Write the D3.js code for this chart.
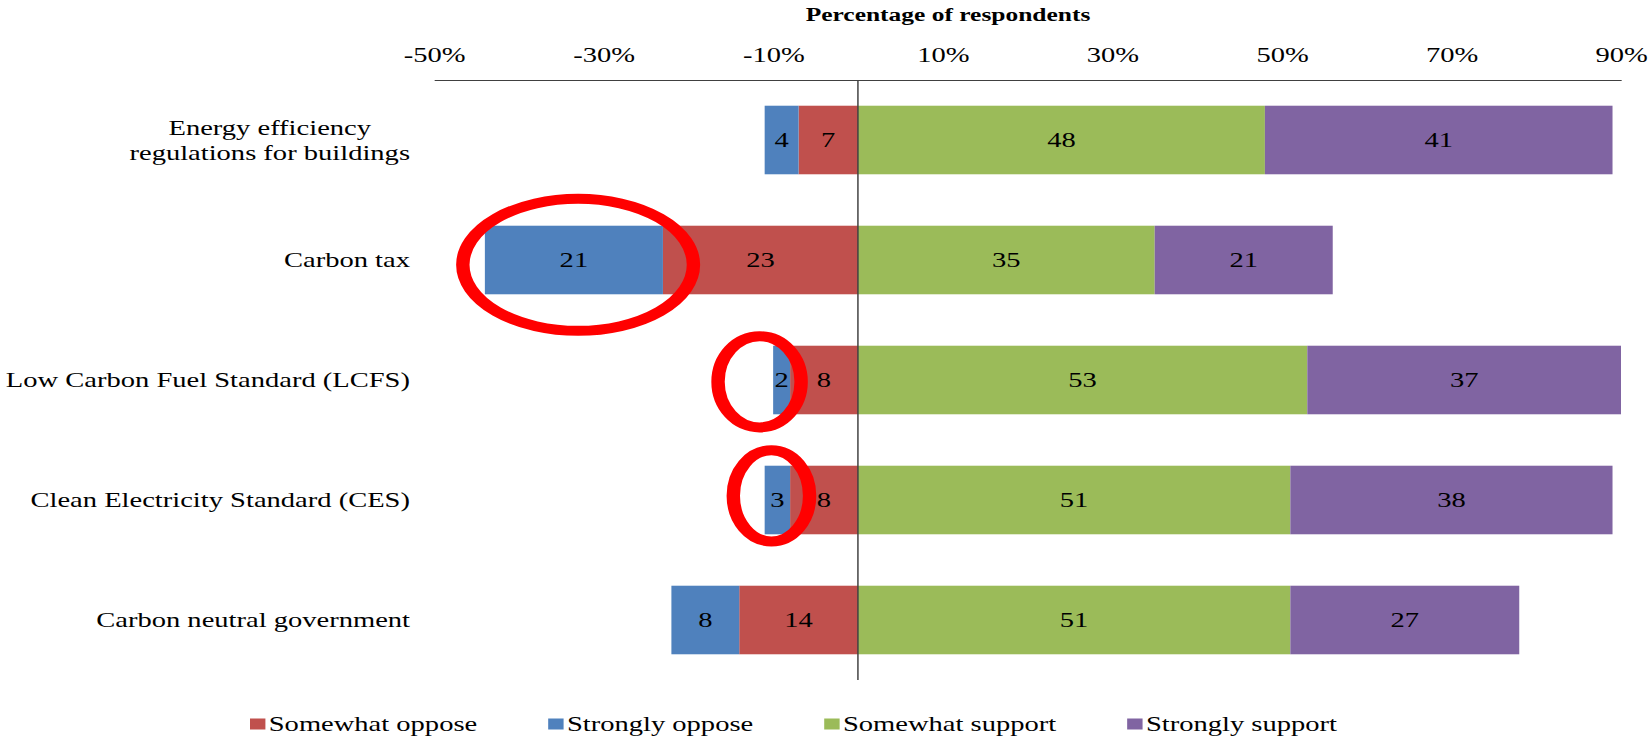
<!DOCTYPE html>
<html>
<head>
<meta charset="utf-8">
<style>
    html, body { margin: 0; padding: 0; background: #fff; }
    svg { display: block; }
    text { font-family: "Liberation Serif", "Times New Roman", serif; fill: #000; }
</style>
</head>
<body>
<div id="support-chart"></div>
<script src="https://cdn.jsdelivr.net/npm/d3@7/dist/d3.min.js"></script>
<script>
// Survey data (percent of respondents)
const categories = [
    "Energy efficiency\nregulations for buildings",
    "Carbon tax",
    "Low Carbon Fuel Standard (LCFS)",
    "Clean Electricity Standard (CES)",
    "Carbon neutral government",
];
const somewhatOppose = [7, 23, 8, 8, 14];
const stronglyOppose = [4, 21, 2, 3, 8];
const somewhatSupport = [48, 35, 53, 51, 51];
const stronglySupport = [41, 21, 37, 38, 27];
const seriesNames = ["Somewhat oppose", "Strongly oppose", "Somewhat support", "Strongly support"];
const seriesColors = ["#c0504d", "#4f81bd", "#9bbb59", "#8064a2"];
const tickValues = [-50, -30, -10, 10, 30, 50, 70, 90];

// Red circles drawn over the chart (value = centre in %, rx in %, ry/dy as share of band step)
const highlights = [
    { category: "Carbon tax", value: -33, rx: 13.6, ry: 0.55, dy: 0.04 },
    { category: "Low Carbon Fuel Standard (LCFS)", value: -11.6, rx: 4.9, ry: 0.38, dy: 0.015 },
    { category: "Clean Electricity Standard (CES)", value: -10.2, rx: 4.5, ry: 0.38, dy: -0.035 },
];

(function () {
    // The original picture is stretched sideways, so draw in narrower units and let the svg widen them
    const stretch = 1.34;
    const outerWidth = 1652;
    const outerHeight = 740;
    const width = outerWidth / stretch;
    const fontSize = "21.3px";

    const svg = d3
        .select("#support-chart")
        .append("svg")
        .attr("width", outerWidth)
        .attr("height", outerHeight)
        .attr("viewBox", `0 0 ${width} ${outerHeight}`)
        .attr("preserveAspectRatio", "none");

    const plot = { left: 434 / stretch, right: 1621 / stretch, top: 80, bottom: 680 };

    const xScale = d3.scaleLinear().domain([-50, 90]).range([plot.left, plot.right]);
    const yScale = d3
        .scaleBand()
        .domain(categories)
        .range([plot.top, plot.bottom])
        .paddingInner(1 - 1 / 1.75) // Excel gap width 75%
        .paddingOuter((1 - 1 / 1.75) / 2);
    const step = yScale.step();

    // Build rows; opposition goes to the left as negative values
    const rows = categories.map((c, i) => ({
        category: c,
        "Somewhat oppose": -somewhatOppose[i],
        "Strongly oppose": -stronglyOppose[i],
        "Somewhat support": somewhatSupport[i],
        "Strongly support": stronglySupport[i],
    }));
    const stacked = d3.stack().keys(seriesNames).offset(d3.stackOffsetDiverging)(rows);
    const colorScale = d3.scaleOrdinal().domain(seriesNames).range(seriesColors);

    // Title
    svg.append("text")
        .attr("x", 948 / stretch)
        .attr("y", 21)
        .attr("text-anchor", "middle")
        .style("font-size", "19px")
        .style("font-weight", "bold")
        .text("Percentage of respondents");

    // Top axis
    const xAxis = d3
        .axisTop(xScale)
        .tickValues(tickValues)
        .tickFormat((d) => d + "%")
        .tickSize(0)
        .tickSizeOuter(0)
        .tickPadding(18);
    const axisGroup = svg.append("g").attr("transform", `translate(0, ${plot.top})`).call(xAxis);
    axisGroup.select(".domain").attr("stroke", "#404040").attr("stroke-width", 1.2);
    axisGroup.selectAll(".tick text")
        .style("font-family", '"Liberation Serif", "Times New Roman", serif')
        .style("font-size", fontSize)
        .attr("fill", "#000");

    // Bars
    const groups = svg
        .selectAll("g.layer")
        .data(stacked)
        .enter()
        .append("g")
        .classed("layer", true)
        .style("fill", (d) => colorScale(d.key));

    groups
        .selectAll("rect")
        .data((d) => d)
        .enter()
        .append("rect")
        .attr("x", (d) => xScale(Math.min(d[0], d[1])))
        .attr("y", (d) => yScale(d.data.category))
        .attr("width", (d) => Math.abs(xScale(d[1]) - xScale(d[0])))
        .attr("height", yScale.bandwidth());

    // Value labels in the middle of each segment
    groups
        .selectAll("text")
        .data((d) => d)
        .enter()
        .append("text")
        .attr("x", (d) => xScale((d[0] + d[1]) / 2))
        .attr("y", (d) => yScale(d.data.category) + yScale.bandwidth() / 2)
        .attr("dy", "0.35em")
        .attr("text-anchor", "middle")
        .style("font-size", fontSize)
        .text((d) => Math.round(Math.abs(d[1] - d[0])));

    // Zero line
    svg.append("line")
        .attr("x1", xScale(0))
        .attr("x2", xScale(0))
        .attr("y1", plot.top)
        .attr("y2", plot.bottom)
        .attr("stroke", "#404040")
        .attr("stroke-width", 1.1);

    // Category labels, right aligned; wrapped lines centred on each other
    const labelRight = 410 / stretch;
    categories.forEach((c) => {
        const lines = c.split("\n");
        const cy = yScale(c) + yScale.bandwidth() / 2;
        const lineHeight = 24.5;
        const label = svg.append("text").attr("text-anchor", "middle").style("font-size", fontSize);
        lines.forEach((line, i) => {
            label.append("tspan")
                .attr("y", cy + (i - (lines.length - 1) / 2) * lineHeight)
                .attr("dy", "0.35em")
                .text(line);
        });
        const widest = d3.max(label.selectAll("tspan").nodes(), (n) => n.getComputedTextLength());
        label.selectAll("tspan").attr("x", labelRight - widest / 2);
    });

    // Legend along the bottom
    let legendX = 250 / stretch;
    const legendY = 724;
    seriesNames.forEach((name) => {
        const item = svg.append("g");
        item.append("rect")
            .attr("x", legendX)
            .attr("y", legendY - 5.5)
            .attr("width", 11.5)
            .attr("height", 11)
            .attr("fill", colorScale(name));
        const t = item.append("text")
            .attr("x", legendX + 14)
            .attr("y", legendY)
            .attr("dy", "0.35em")
            .style("font-size", fontSize)
            .text(name);
        legendX += 14 + t.node().getComputedTextLength() + 53;
    });

    // Red highlight ellipses
    svg.selectAll("ellipse.highlight")
        .data(highlights)
        .enter()
        .append("ellipse")
        .attr("class", "highlight")
        .attr("cx", (d) => xScale(d.value))
        .attr("cy", (d) => yScale(d.category) + yScale.bandwidth() / 2 + d.dy * step)
        .attr("rx", (d) => xScale(d.rx) - xScale(0))
        .attr("ry", (d) => d.ry * step)
        .attr("fill", "none")
        .attr("stroke", "#ff0000")
        .attr("stroke-width", 10);
})();
</script>
</body>
</html>
